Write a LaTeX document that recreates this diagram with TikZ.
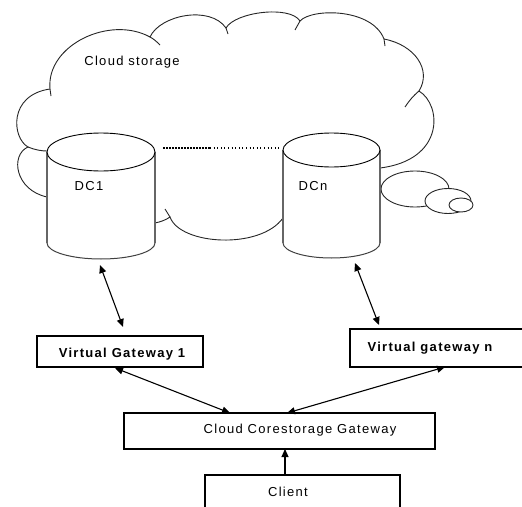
\documentclass[tikz,border=0pt]{standalone}
\usepackage{fontspec}
\setmainfont[LetterSpace=10]{Liberation Sans}
\usetikzlibrary{arrows.meta}
\begin{document}
\begin{tikzpicture}[x=1pt,y=-1pt,
  cloudline/.style={line width=0.9pt, black!85},
  txt/.style={font=\fontsize{13}{15}\selectfont, anchor=base, inner sep=0pt},
  boxline/.style={draw, line width=1.2pt, inner sep=0pt},
  side/.style={line width=1.6pt, black!60},
  rim/.style={line width=0.9pt, black},
  tip/.tip={Triangle[length=8pt,width=7pt]},
  arr/.style={line width=1.1pt, tip-tip},
  arrone/.style={line width=1.1pt, -tip},
]
\useasboundingbox (0,0) rectangle (522,506);
\begin{scope}
\clip (0,0) rectangle (522,506);
% cloud
\draw[cloudline, fill=white] (50,89) .. controls (46,45) and (110,15) .. (150,37)
 .. controls (160,15) and (210,5) .. (226,28)
 .. controls (235,12) and (290,5) .. (300,21)
 .. controls (312,8) and (372,8) .. (384,39)
 .. controls (415,45) and (432,70) .. (419,91)
 .. controls (442,105) and (445,160) .. (380,168)
 -- (283,218)
 .. controls (260,250) and (180,245) .. (170,217)
 .. controls (166,220) and (160,222) .. (155,223)
 -- (47,197)
 .. controls (15,190) and (10,155) .. (28,147)
 .. controls (12,138) and (8,95) .. (50,89) -- cycle;
\draw[cloudline] (28,147) .. controls (35,150) and (42,151) .. (47,151);
\draw[cloudline] (50,89) -- (51,96);
\draw[cloudline] (150,37) .. controls (154,39) and (157,42) .. (160,45);
\draw[cloudline] (226,28) -- (228,34);
\draw[cloudline] (300,21) -- (295,30);
\draw[cloudline] (384,39) -- (385,46);
\draw[cloudline] (419,91) .. controls (413,96) and (409,101) .. (405,107);
\draw[cloudline] (170,217) -- (165,209);
% thought bubbles
\draw[cloudline, fill=white] (415,189) ellipse [x radius=34, y radius=18];
\draw[cloudline, fill=white] (448,201) ellipse [x radius=23, y radius=12.5];
\draw[cloudline, fill=white] (461,205) ellipse [x radius=12, y radius=7];
% DC1 cylinder
\fill[white] (47,152) -- (47,243) arc[start angle=180,end angle=0,x radius=54,y radius=16] -- (155,152) -- cycle;
\draw[line width=1pt, black!75] (47,243) arc[start angle=180,end angle=0,x radius=54,y radius=16];
\draw[side] (47,152) -- (47,243) (155,152) -- (155,243);
\draw[rim, fill=white] (101,152) ellipse [x radius=54, y radius=19];
% DCn cylinder
\fill[white] (283,150) -- (283,243) arc[start angle=180,end angle=0,x radius=48.5,y radius=15] -- (380,150) -- cycle;
\draw[line width=1pt, black!75] (283,243) arc[start angle=180,end angle=0,x radius=48.5,y radius=15];
\draw[side] (283,150) -- (283,243) (380,150) -- (380,243);
\draw[rim, fill=white] (331.5,150) ellipse [x radius=48.5, y radius=17];
% dotted link
\coordinate (d1) at (163,148);
\coordinate (d2) at (210,148);
\coordinate (d3) at (280,148);
\draw[line width=1.3pt, dash pattern=on 2pt off 1pt] (d1) -- (d2);
\draw[line width=1.3pt, dash pattern=on 1pt off 2.6pt] (d2) -- (d3);
% labels in cloud
\node[txt] (cs) at (132,65) {Cloud storage};
\node[txt] (dc1) at (89,190) {DC1};
\node[txt] (dcn) at (313,190) {DCn};
% boxes
\node[boxline, minimum width=166pt, minimum height=31pt] (vg1) at (120,351.5) {};
\node[boxline, minimum width=176pt, minimum height=38pt] (vgn) at (438,348) {};
\node[boxline, minimum width=311pt, minimum height=36pt] (ccg) at (279.5,431) {};
\node[draw, line width=1.8pt, inner sep=0pt, minimum width=195pt, minimum height=45pt] (cl) at (302.5,497.5) {};
\node[txt, font=\fontsize{13}{15}\selectfont\bfseries] (vg1t) at (122,357) {Virtual Gateway 1};
\node[txt, font=\fontsize{13}{15}\selectfont\bfseries] (vgnt) at (430,351) {Virtual gateway n};
\node[txt] (ccgt) at (300,433) {Cloud Corestorage Gateway};
\node[txt] (clt) at (288,496) {Client};
% arrows
\coordinate (a1s) at (100,265);
\coordinate (a1e) at (123,327);
\coordinate (a2s) at (355,263);
\coordinate (a2e) at (379,325);
\coordinate (a3s) at (115,368);
\coordinate (a3e) at (230,413);
\coordinate (a4s) at (445,367);
\coordinate (a4e) at (287,413);
\coordinate (a5s) at (285,475);
\coordinate (a5e) at (285,449);
\draw[arr] (a1s) -- (a1e);
\draw[arr] (a2s) -- (a2e);
\draw[arr] (a3s) -- (a3e);
\draw[arr] (a4s) -- (a4e);
\draw[arrone] (a5s) -- (a5e);
\end{scope}
\end{tikzpicture}
\end{document}
